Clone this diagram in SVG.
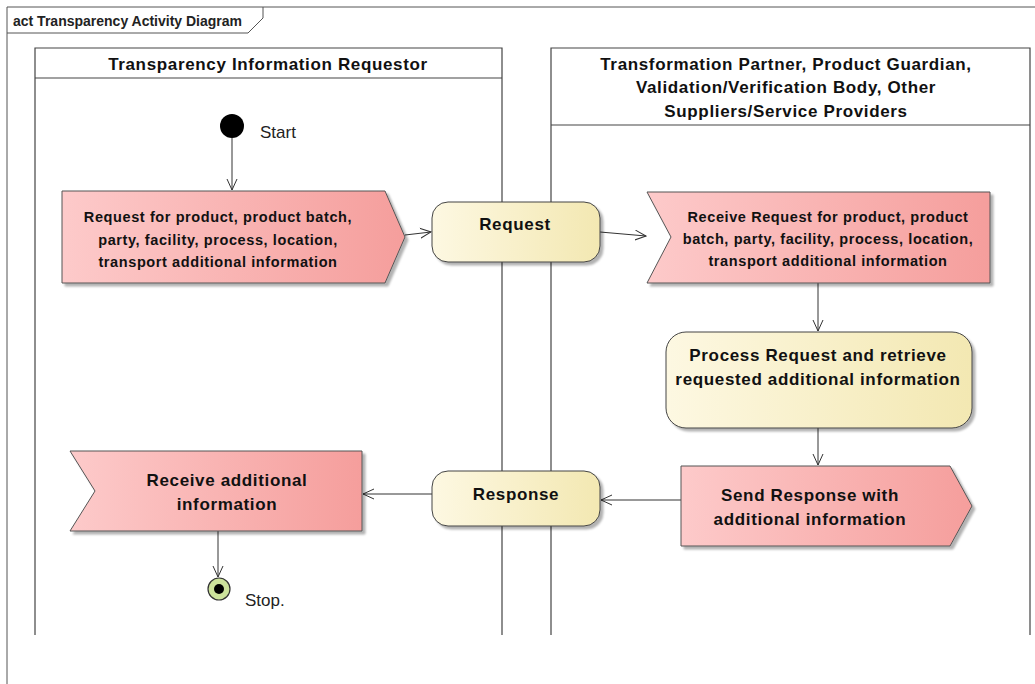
<svg xmlns="http://www.w3.org/2000/svg" width="1035" height="684" viewBox="0 0 1035 684">
  <defs>
    <linearGradient id="pinkGrad" x1="0" y1="0" x2="1" y2="0">
      <stop offset="0" stop-color="#fdcaca"/>
      <stop offset="1" stop-color="#f59e9c"/>
    </linearGradient>
    <linearGradient id="yellowGrad" x1="0" y1="0" x2="1" y2="0">
      <stop offset="0" stop-color="#fdf8e2"/>
      <stop offset="1" stop-color="#f3e8b2"/>
    </linearGradient>
    <filter id="shadow" x="-10%" y="-10%" width="130%" height="130%">
      <feDropShadow dx="3" dy="3" stdDeviation="1.2" flood-color="#000" flood-opacity="0.3"/>
    </filter>
    <marker id="openArrow" viewBox="0 0 12 12" refX="11" refY="6" markerWidth="12" markerHeight="12" markerUnits="userSpaceOnUse" orient="auto">
      <path d="M0,1 L11,6 L0,11" fill="none" stroke="#333" stroke-width="1"/>
    </marker>
    <style>
      .frame { fill: none; stroke: #555; stroke-width: 1; }
      .lane { fill: none; stroke: #444; stroke-width: 1.2; }
      .pink { fill: url(#pinkGrad); stroke: #555; stroke-width: 1; filter: url(#shadow); }
      .yellow { fill: url(#yellowGrad); stroke: #444; stroke-width: 1; filter: url(#shadow); }
      .label { font-family: "Liberation Sans", Arial, sans-serif; font-weight: bold; fill: #111; text-anchor: middle; }
      .small { font-size: 14.5px; letter-spacing: 0.6px; }
      .big { font-size: 17px; letter-spacing: 0.65px; }
      .plain { font-family: "Liberation Sans", Arial, sans-serif; fill: #222; }
      .edge { fill: none; stroke: #333; stroke-width: 1; marker-end: url(#openArrow); }
    </style>
  </defs>

  <rect width="1035" height="684" fill="#fff"/>

  <!-- diagram frame with name tab -->
  <g id="frame">
    <path class="frame" d="M7,684 L7,7 L1035,7"/>
    <path class="frame" d="M7,33 L248,33 L263,18 L263,7"/>
    <text class="plain" x="13" y="26" font-size="14" font-weight="bold">act Transparency Activity Diagram</text>
  </g>

  <!-- swimlanes -->
  <g id="lane-requestor">
    <path class="lane" d="M35,635 L35,48 L502,48 L502,635"/>
    <line class="lane" x1="35" y1="78" x2="502" y2="78"/>
    <text class="label big" x="268" y="70">Transparency Information Requestor</text>
  </g>
  <g id="lane-partners">
    <path class="lane" d="M551,635 L551,48 L1030,48 L1030,635"/>
    <line class="lane" x1="551" y1="125" x2="1030" y2="125"/>
    <text class="label big" x="786" y="70">Transformation Partner, Product Guardian,</text>
    <text class="label big" x="786" y="93">Validation/Verification Body, Other</text>
    <text class="label big" x="786" y="117">Suppliers/Service Providers</text>
  </g>

  <!-- connectors -->
  <g id="connectors">
    <line class="edge" x1="232" y1="138" x2="232" y2="190"/>
    <line class="edge" x1="405" y1="235" x2="431" y2="232"/>
    <line class="edge" x1="600" y1="232" x2="646" y2="236"/>
    <line class="edge" x1="818" y1="283" x2="818" y2="331"/>
    <line class="edge" x1="818" y1="428" x2="818" y2="465"/>
    <line class="edge" x1="681" y1="500" x2="601" y2="500"/>
    <line class="edge" x1="432" y1="494" x2="363" y2="494"/>
    <line class="edge" x1="218" y1="531" x2="218" y2="577"/>
  </g>

  <!-- start node -->
  <g id="start">
    <circle cx="232" cy="126" r="12" fill="#000"/>
    <text class="plain" x="260" y="138" font-size="17">Start</text>
  </g>

  <!-- send signal: request -->
  <g id="send-request">
    <path class="pink" d="M62,191 L385,191 L405,237 L385,283 L62,283 Z"/>
    <text class="label small" x="218" y="222">Request for product, product batch,</text>
    <text class="label small" x="218" y="245">party, facility, process, location,</text>
    <text class="label small" x="218" y="267">transport additional information</text>
  </g>

  <!-- object: Request -->
  <g id="request">
    <rect class="yellow" x="432" y="202" width="168" height="60" rx="16"/>
    <text class="label big" x="515" y="230">Request</text>
  </g>

  <!-- accept event: receive request -->
  <g id="receive-request">
    <path class="pink" d="M647,192 L990,192 L990,283 L647,283 L671,237 Z"/>
    <text class="label small" x="828" y="222">Receive Request for  product, product</text>
    <text class="label small" x="828" y="244">batch, party, facility, process, location,</text>
    <text class="label small" x="828" y="266">transport additional information</text>
  </g>

  <!-- action: process request -->
  <g id="process-request">
    <rect class="yellow" x="666" y="332" width="306" height="96" rx="20"/>
    <text class="label big" x="818" y="361">Process Request and retrieve</text>
    <text class="label big" x="818" y="385">requested additional information</text>
  </g>

  <!-- send signal: response -->
  <g id="send-response">
    <path class="pink" d="M681,466 L950,466 L972,506 L950,546 L681,546 Z"/>
    <text class="label big" x="810" y="501">Send Response with</text>
    <text class="label big" x="810" y="525">additional information</text>
  </g>

  <!-- object: Response -->
  <g id="response">
    <rect class="yellow" x="432" y="471" width="168" height="55" rx="16"/>
    <text class="label big" x="516" y="500">Response</text>
  </g>

  <!-- accept event: receive information -->
  <g id="receive-information">
    <path class="pink" d="M70,451 L362,451 L362,531 L70,531 L95,491 Z"/>
    <text class="label big" x="227" y="486">Receive additional</text>
    <text class="label big" x="227" y="510">information</text>
  </g>

  <!-- final node -->
  <g id="stop">
    <circle cx="219" cy="589" r="11" fill="#cde39c" stroke="#333" stroke-width="1.2"/>
    <circle cx="219" cy="589" r="5" fill="#000"/>
    <text class="plain" x="245" y="606" font-size="17">Stop.</text>
  </g>
</svg>
